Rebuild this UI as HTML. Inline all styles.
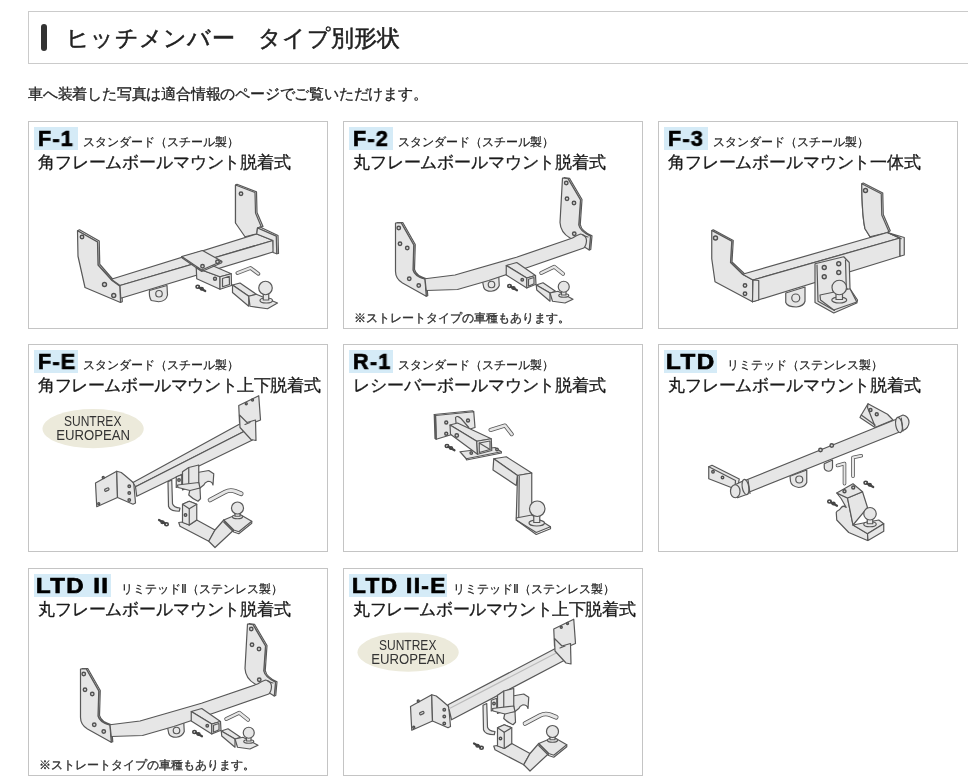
<!DOCTYPE html>
<html><head><meta charset="utf-8">
<style>
html,body{margin:0;padding:0;background:#fff;-webkit-font-smoothing:antialiased;width:968px;height:781px;overflow:hidden;position:relative;font-family:"Liberation Sans",sans-serif;color:#222}
.hd{position:absolute;left:28px;top:11px;width:960px;height:51px;border:1px solid #cbcbcb;box-sizing:content-box}
.hd .bar{position:absolute;left:12px;top:12px;width:6px;height:27px;border-radius:3px;background:#333}
.hd .t{will-change:transform;position:absolute;left:37px;top:12px;font-size:23px;letter-spacing:0.25px;line-height:28px;color:#222;-webkit-text-stroke:0.5px #222;white-space:nowrap}
.intro{will-change:transform;position:absolute;left:28px;top:85px;font-size:15px;letter-spacing:-0.2px;line-height:18px;color:#222;-webkit-text-stroke:0.3px #222;white-space:nowrap}
.card{position:absolute;width:298px;height:206px;border:1px solid #c4c4c4;background:#fff;overflow:hidden}
.lab{position:absolute;left:5px;top:5px;height:23px;background:#d5ebf7;}
.lab b{will-change:transform;position:absolute;left:4px;top:1px;font-size:22px;line-height:22px;font-weight:bold;color:#000;white-space:nowrap;-webkit-text-stroke:0.7px #000;transform-origin:0 0;transform:scaleX(0.98);letter-spacing:1.3px}
.sub{will-change:transform;position:absolute;top:13px;font-size:11.5px;line-height:14px;color:#222;-webkit-text-stroke:0.2px #222;white-space:nowrap}
.ttl{will-change:transform;position:absolute;left:9px;top:30.5px;font-size:17px;letter-spacing:-0.15px;line-height:20px;color:#1a1a1a;-webkit-text-stroke:0.3px #1a1a1a;white-space:nowrap}
.note{will-change:transform;position:absolute;left:10px;top:188px;font-size:11.7px;line-height:16px;color:#333;-webkit-text-stroke:0.35px #333;white-space:nowrap}
svg.dr{position:absolute;left:0;top:0;width:298px;height:206px}
svg#draw{position:absolute;left:0;top:0;width:968px;height:781px}
#draw .p{fill:#e6e6e6;stroke:#585858;stroke-width:1.2;vector-effect:non-scaling-stroke;stroke-linejoin:round}
#draw .l{fill:none;stroke:#585858;stroke-width:1.2;vector-effect:non-scaling-stroke;stroke-linejoin:round;stroke-linecap:round}
#draw .h{fill:#d6d6d6;stroke:#505050;stroke-width:1.4;vector-effect:non-scaling-stroke}
</style></head><body>
<div class="hd"><div class="bar"></div><div class="t">ヒッチメンバー　タイプ別形状</div></div>
<div class="intro">車へ装着した写真は適合情報のページでご覧いただけます。</div>

<div class="card" style="left:28px;top:121px">
 <div class="lab" style="width:44px"><b>F-1</b></div><div class="sub" style="left:54px">スタンダード（スチール製）</div>
 <div class="ttl">角フレームボールマウント脱着式</div>
</div>
<div class="card" style="left:343px;top:121px">
 <div class="lab" style="width:44px"><b>F-2</b></div><div class="sub" style="left:54px">スタンダード（スチール製）</div>
 <div class="ttl">丸フレームボールマウント脱着式</div>
 <div class="note">※ストレートタイプの車種もあります。</div>
</div>
<div class="card" style="left:658px;top:121px">
 <div class="lab" style="width:44px"><b>F-3</b></div><div class="sub" style="left:54px">スタンダード（スチール製）</div>
 <div class="ttl">角フレームボールマウント一体式</div>
</div>

<div class="card" style="left:28px;top:344px">
 <div class="lab" style="width:44px"><b>F-E</b></div><div class="sub" style="left:54px">スタンダード（スチール製）</div>
 <div class="ttl" style="letter-spacing:-0.4px">角フレームボールマウント上下脱着式</div>
</div>
<div class="card" style="left:343px;top:344px">
 <div class="lab" style="width:44px"><b>R-1</b></div><div class="sub" style="left:54px">スタンダード（スチール製）</div>
 <div class="ttl">レシーバーボールマウント脱着式</div>
</div>
<div class="card" style="left:658px;top:344px">
 <div class="lab" style="width:53px"><b style="transform:scaleX(1.1);left:2px">LTD</b></div><div class="sub" style="left:68px">リミテッド（ステンレス製）</div>
 <div class="ttl">丸フレームボールマウント脱着式</div>
</div>

<div class="card" style="left:28px;top:568px">
 <div class="lab" style="width:77px"><b style="transform:scaleX(1.09);left:2px">LTD II</b></div><div class="sub" style="left:92px">リミテッドⅡ（ステンレス製）</div>
 <div class="ttl">丸フレームボールマウント脱着式</div>
 <div class="note">※ストレートタイプの車種もあります。</div>
</div>
<div class="card" style="left:343px;top:568px">
 <div class="lab" style="width:98px"><b style="transform:scaleX(1.03);left:3px">LTD II-E</b></div><div class="sub" style="left:109px">リミテッドⅡ（ステンレス製）</div>
 <div class="ttl" style="letter-spacing:-0.4px">丸フレームボールマウント上下脱着式</div>
</div>
<svg id="draw" viewBox="0 0 968 781">
<defs>
<g id="clip">
 <ellipse cx="8" cy="9" rx="7" ry="6" fill="none" stroke="#444" stroke-width="1.6" vector-effect="non-scaling-stroke"/>
 <path d="M13,12 L38,26" fill="none" stroke="#444" stroke-width="2.2" vector-effect="non-scaling-stroke" stroke-linecap="round"/>
 <ellipse cx="24" cy="17" rx="6" ry="5" fill="none" stroke="#444" stroke-width="1.4" vector-effect="non-scaling-stroke"/>
</g>
<g id="f1">
 <polygon class="p" points="78,239 157,284 159,377 212,438 247,460 249,527 242,530 240,465 208,442 152,380 150,288 70,243"/>
 <polygon class="p" points="70,243 150,288 152,380 208,442 240,465 242,530 100,470 72,345"/>
 <circle class="h" cx="88" cy="268" r="7"/><circle class="h" cx="178" cy="458" r="8"/><circle class="h" cx="215" cy="502" r="8"/>
 <polygon class="p" points="708,57 786,87 788,170 812,226 790,232 702,212 702,60"/>
 <polygon class="p" points="702,60 780,90 782,172 805,227 790,232 787,256 740,267 702,212"/>
 <circle class="h" cx="724" cy="95" r="7"/>
 <polygon class="p" points="205,437 787,256 852,282 240,462"/>
 <polygon class="p" points="240,462 852,282 855,327 243,513"/>
 <polygon class="p" points="790,232 800,228 872,262 874,334 867,335 865,265"/>
 <polygon class="p" points="790,232 865,265 867,335 852,330 852,282 787,256"/>
 <path class="p" d="M358,482 L428,462 L430,500 Q425,525 395,527 L365,522 Q355,505 358,482 Z"/>
 <circle class="p" cx="396" cy="495" r="13"/>
 <polygon class="p" points="545,392 640,427 640,477 547,435"/>
 <polygon class="p" points="545,392 597,377 685,415 640,427"/>
 <polygon class="p" points="640,427 685,415 686,462 640,477"/>
 <polygon class="p" points="650,434 677,425 678,458 650,467"/>
 <polygon class="p" points="487,346 570,322 647,365 567,400"/>
 <polyline class="l" points="487,346 489,352 567,406 647,371 647,365"/>
 <circle class="h" cx="570" cy="385" r="7"/><circle class="h" cx="630" cy="367" r="7"/>
 <circle class="h" cx="620" cy="435" r="6"/>
 <polygon class="p" points="690,460 720,452 785,497 755,505"/>
 <polygon class="p" points="690,460 755,505 755,545 690,490"/>
 <polygon class="p" points="755,505 785,497 870,532 830,555 760,545"/>
 <ellipse class="p" cx="825" cy="522" rx="25" ry="10"/>
 <rect class="p" x="813" y="490" width="22" height="30"/>
 <circle class="p" cx="822" cy="472" r="27"/>
 <polyline class="l" style="stroke-width:4;stroke:#666" points="710,412 762,392 793,415"/>
 <polyline class="l" style="stroke-width:2;stroke:#e6e6e6" points="710,412 762,392 793,415"/>
 <use href="#clip" x="543" y="458"/>
</g>
<g id="f2">
 <path class="p" d="M88,210 L111,210 L161,298 L158,398 Q165,425 206,435 L211,503 L205,505 L202,437 Q160,428 152,400 L155,300 L105,212 Z"/>
 <path class="p" d="M82,212 L105,212 L155,300 L152,400 Q158,425 200,437 L205,505 L110,452 Q82,435 82,405 Z"/>
 <circle class="h" cx="95" cy="232" r="7"/><circle class="h" cx="100" cy="295" r="7"/><circle class="h" cx="129" cy="312" r="7"/><circle class="h" cx="137" cy="435" r="7"/><circle class="h" cx="175" cy="462" r="7"/>
 <path class="p" d="M756,30 L778,33 L828,118 L821,218 Q826,245 868,263 L863,318 L857,320 L862,265 Q820,245 815,220 L822,120 L772,35 Z"/>
 <path class="p" d="M750,32 L772,35 L822,120 L815,220 Q820,245 862,265 L857,320 L780,272 Q742,250 740,210 Z"/>
 <circle class="h" cx="765" cy="52" r="7"/><circle class="h" cx="768" cy="115" r="7"/><circle class="h" cx="796" cy="132" r="7"/><circle class="h" cx="797" cy="255" r="7"/>
 <path class="p" d="M430,445 L495,425 L497,462 Q490,482 465,485 Q440,485 435,470 Z"/>
 <circle class="p" cx="466" cy="458" r="13"/>
 <path class="p" d="M200,435 L320,420 L566,349 L790,272 Q805,262 822,256 Q845,260 846,282 Q845,303 835,312 L616,388 L455,442 L330,478 L205,482 Z"/>
 <polyline class="l" points="832,262 852,268"/>
 <polygon class="p" points="525,382 567,370 642,422 607,432"/>
 <polygon class="p" points="525,382 607,432 607,472 525,420"/>
 <polygon class="p" points="607,432 642,422 644,457 607,472"/>
 <polygon class="p" points="614,437 636,430 636,455 614,465"/>
 <circle class="h" cx="589" cy="439" r="5"/>
 <polygon class="p" points="645,460 672,451 722,485 700,492"/>
 <polygon class="p" points="645,460 700,492 700,525 647,480"/>
 <polygon class="p" points="700,492 732,485 792,517 760,532 710,525"/>
 <ellipse class="p" cx="755" cy="502" rx="20" ry="7"/>
 <rect class="p" x="746" y="482" width="18" height="18"/>
 <circle class="p" cx="755" cy="467" r="22"/>
 <polyline class="l" style="stroke-width:4;stroke:#555" points="665,412 717,387 752,415"/>
 <polyline class="l" style="stroke-width:2.4;stroke:#e6e6e6" points="665,412 717,387 752,415"/>
 <use href="#clip" x="530" y="455"/>
</g>
<g id="f3">
 <polygon class="p" points="93,239 173,282 168,368 216,413 258,438 258,524 250,527 252,440 210,417 162,370 167,285 87,242"/>
 <polygon class="p" points="87,242 167,285 162,370 210,417 252,440 250,527 100,447 87,355"/>
 <circle class="h" cx="102" cy="272" r="8"/><circle class="h" cx="220" cy="462" r="7"/><circle class="h" cx="220" cy="495" r="7"/>
 <path class="p" d="M693,52 L771,92 L773,178 L801,243 L790,250 L720,267 L700,235 Q688,180 687,55 Z"/>
 <path class="p" d="M687,55 L765,95 L767,180 L795,245 L790,250 L720,267 L700,235 Q688,180 687,55 Z"/>
 <circle class="h" cx="702" cy="82" r="8"/>
 <path class="p" d="M383,492 L460,468 L460,525 Q455,545 425,548 Q390,548 383,530 Z"/>
 <circle class="p" cx="423" cy="512" r="16"/>
 <polygon class="p" points="210,417 790,250 840,272 252,440"/>
 <polygon class="p" points="252,440 840,272 840,345 250,527"/>
 <polygon class="p" points="252,440 275,442 275,520 250,527"/>
 <polygon class="p" points="790,250 850,268 857,270 857,340 840,345 840,272"/>
 <polyline class="l" points="790,250 845,275"/>
 <path class="p" d="M500,375 L615,347 L637,370 L640,475 L670,520 L667,532 L575,572 L500,530 Z"/>
 <polyline class="l" points="508,380 512,525 578,562"/>
 <polyline class="l" points="622,360 625,470 660,515"/>
 <polygon class="p" points="520,500 640,475 667,528 575,560 522,520"/>
 <circle class="h" cx="537" cy="390" r="8"/><circle class="h" cx="595" cy="375" r="8"/><circle class="h" cx="595" cy="410" r="8"/><circle class="h" cx="537" cy="427" r="8"/>
 <ellipse class="p" cx="597" cy="520" rx="30" ry="12"/>
 <rect class="p" x="584" y="485" width="26" height="33"/>
 <circle class="p" cx="597" cy="470" r="29"/>
</g>
<g id="fe_a">
 <polygon class="p" points="262,392 347,345 350,450 267,487"/>
 <polygon class="p" points="347,345 365,350 380,362 415,392 422,472 412,477 350,450"/>
 <rect class="l" x="298" y="414" width="18" height="9" rx="4" transform="rotate(-25 307 418)"/>
 <circle class="h" cx="397" cy="405" r="5"/><circle class="h" cx="397" cy="432" r="5"/><circle class="h" cx="397" cy="460" r="5"/>
 <circle class="h" cx="275" cy="475" r="4"/><circle class="h" cx="293" cy="370" r="4"/>
</g>
<g id="fe_b"> <polygon class="p" points="835,82 915,43 922,140 862,165 838,150"/>
 <polygon class="p" points="838,120 868,150 902,140 904,222 884,218 840,170"/>
 <polyline class="l" points="860,158 880,150"/>
 <circle class="h" cx="865" cy="75" r="4"/><circle class="h" cx="890" cy="60" r="4"/>
 <path class="p" d="M552,387 L567,380 L570,475 Q575,490 600,492 L597,505 Q560,505 554,485 Z"/>
 <path class="p" d="M670,350 L715,342 L735,355 L732,400 Q728,385 712,385 Q698,390 695,400 L680,412 L670,405 Z"/>
 <path class="p" d="M640,417 L680,412 L682,455 L672,465 Q650,455 635,440 Z"/>
 <polygon class="p" points="610,347 635,330 675,320 675,400 635,410 610,420"/>
 <polyline class="l" points="635,330 635,410"/>
 <polygon class="p" points="585,367 607,359 607,402 585,410"/>
 <circle class="h" cx="596" cy="380" r="5"/>
 <path class="p" d="M590,400 L675,390 L680,412 L640,422 L592,410 Z"/>
 <path class="l" style="stroke-width:4.6;stroke:#555" d="M720,460 L780,428 Q800,418 820,425 L845,435"/>
 <path class="l" style="stroke-width:3;stroke:#e6e6e6" d="M720,460 L780,428 Q800,418 820,425 L845,435"/>
 <g transform="translate(554,566) rotate(180)"><use href="#clip"/></g>
 <polygon class="p" points="595,550 610,548 637,560 667,540 740,580 715,625 600,565"/>
 <polygon class="p" points="715,625 740,580 775,540 815,580 740,650"/>
 <polygon class="p" points="775,540 835,515 887,545 835,587 815,580"/>
 <polyline class="l" points="775,548 815,588 835,595 887,553 887,545"/>
 <polygon class="p" points="610,477 637,465 667,477 667,540 637,560 610,550"/>
 <polygon class="p" points="610,477 637,465 667,477 637,495"/>
 <polyline class="l" points="637,495 637,560"/>
 <circle class="h" cx="622" cy="520" r="5"/>
 <ellipse class="p" cx="830" cy="527" rx="20" ry="8"/>
 <rect class="p" x="820" y="505" width="20" height="20"/>
 <circle class="p" cx="830" cy="492" r="24"/>
</g>
<g id="fe">
 <use href="#fe_a"/>
 <polygon class="p" points="412,390 850,150 887,170 422,407"/>
 <polygon class="p" points="422,407 887,170 890,220 427,445"/>
 <use href="#fe_b"/>
</g>
<g id="fe2">
 <use href="#fe_a"/>
 <path class="p" d="M412,385 L870,145 Q900,150 900,176 Q898,200 880,206 L426,445 Z"/>
 <ellipse class="p" cx="882" cy="176" rx="14" ry="30" transform="rotate(-10 882 176)"/>
 <polyline class="l" style="stroke:#bbb" points="418,400 870,165"/>
 <use href="#fe_b"/>
</g>
<g id="r1">
 <polygon class="p" points="142,122 295,107 300,170 145,217"/>
 <polyline class="l" points="137,118 290,103 295,107"/>
 <polygon class="p" points="137,118 142,122 145,217 140,214"/>
 <circle class="h" cx="185" cy="150" r="6"/><circle class="h" cx="185" cy="195" r="6"/><circle class="h" cx="272" cy="142" r="6"/>
 <path class="p" d="M222,130 Q230,120 245,135 L275,170 L275,185 L225,160 Z"/>
 <polygon class="p" points="240,267 380,250 405,267 265,295"/>
 <polyline class="l" points="265,295 266,300 406,272 405,267"/>
 <polygon class="p" points="200,160 230,152 365,215 307,225"/>
 <polygon class="p" points="200,160 307,225 310,277 202,197"/>
 <polygon class="p" points="307,225 365,215 367,262 310,277"/>
 <polygon class="p" points="317,232 360,224 360,258 317,270"/>
 <polyline class="l" points="317,232 360,258"/>
 <circle class="h" cx="227" cy="202" r="7"/>
 <circle class="h" cx="285" cy="272" r="5"/><circle class="h" cx="388" cy="258" r="5"/>
 <polyline class="l" style="stroke-width:4;stroke:#555" points="362,180 420,162 447,197"/>
 <polyline class="l" style="stroke-width:2.4;stroke:#e6e6e6" points="362,180 420,162 447,197"/>
 <use href="#clip" x="180" y="235"/>
 <polygon class="p" points="375,295 425,287 527,352 470,362"/>
 <polygon class="p" points="375,295 470,362 465,402 372,340"/>
 <polygon class="p" points="470,362 527,352 527,540 465,532"/>
 <polyline class="l" points="477,365 475,530"/>
 <polygon class="p" points="465,532 527,520 602,567 545,590 465,540"/>
 <polyline class="l" points="465,540 545,598 602,575 602,567"/>
 <ellipse class="p" cx="547" cy="552" rx="31" ry="12"/>
 <rect class="p" x="535" y="515" width="24" height="35"/>
 <circle class="p" cx="549" cy="495" r="31"/>
</g>
<g id="ltd">
 <polygon class="p" points="35,327 48,321 157,376 150,415 125,410 35,375"/>
 <polyline class="l" points="35,327 142,382 140,412"/>
 <circle class="h" cx="52" cy="347" r="5"/><circle class="h" cx="90" cy="370" r="5"/>
 <polygon class="p" points="672,75 750,117 772,140 700,170 640,130 645,120"/>
 <polyline class="l" points="672,75 670,90 700,165"/>
 <polyline class="l" points="645,120 700,160"/>
 <circle class="h" cx="682" cy="100" r="6"/><circle class="h" cx="707" cy="117" r="6"/>
 <path class="p" d="M497,315 L530,300 L530,330 Q528,345 513,345 Q497,342 497,330 Z"/>
 <path class="p" d="M360,365 L427,340 L427,390 Q420,408 395,410 Q365,405 362,385 Z"/>
 <circle class="p" cx="397" cy="378" r="14"/>
 <path class="p" d="M165,388 L790,135 L798,188 L175,437 Z"/>
 <circle class="h" cx="482" cy="260" r="7"/><circle class="h" cx="527" cy="242" r="7"/>
 <path class="p" d="M812,120 Q836,126 836,150 Q834,174 812,182 L798,188 L790,130 Z"/>
 <ellipse class="p" cx="796" cy="160" rx="13" ry="31" transform="rotate(-10 796 160)"/>
 <polyline class="l" points="805,132 812,184"/>
 <path class="p" d="M140,399 L180,380 L192,436 L150,451 Z"/>
 <ellipse class="p" cx="141" cy="425" rx="19" ry="26"/>
 <ellipse class="p" cx="182" cy="408" rx="13" ry="31" transform="rotate(-10 182 408)"/>
 <polyline class="l" points="192,380 200,434"/>
 <path class="l" style="stroke-width:3.6;stroke:#555" d="M550,322 L578,314 L578,395"/>
 <path class="l" style="stroke-width:2;stroke:#e6e6e6" d="M550,322 L578,314 L578,395"/>
 <path class="l" style="stroke-width:3.6;stroke:#555" d="M645,283 L612,290 L612,365"/>
 <path class="l" style="stroke-width:2;stroke:#e6e6e6" d="M645,283 L612,290 L612,365"/>
 <use href="#clip" x="655" y="382"/>
 <use href="#clip" x="510" y="457"/>
 <path class="p" d="M547,432 L565,455 L585,490 Q575,480 565,490 Q560,500 548,505 L545,510 L547,540 L595,590 L670,622 L672,595 L612,560 L590,452 Z"/>
 <polygon class="p" points="590,452 650,427 670,490 612,560"/>
 <polygon class="p" points="547,432 612,395 650,427 590,452"/>
 <circle class="h" cx="578" cy="425" r="6"/><circle class="h" cx="613" cy="410" r="6"/>
 <polygon class="p" points="612,560 715,540 735,555 670,595"/>
 <polygon class="p" points="670,595 735,555 735,585 672,622"/>
 <ellipse class="p" cx="680" cy="557" rx="25" ry="10"/>
 <rect class="p" x="669" y="527" width="22" height="28"/>
 <circle class="p" cx="680" cy="515" r="25"/>
</g>
</defs>
<use href="#f1" transform="translate(60,170) scale(0.25)"/>
<use href="#f2" transform="translate(375,170) scale(0.25)"/>
<use href="#f2" transform="translate(60,616) scale(0.25)"/>
<use href="#f3" transform="translate(690,170) scale(0.25)"/>
<use href="#fe" transform="translate(30,385) scale(0.25)"/>
<use href="#fe2" transform="translate(345,608.5) scale(0.25)"/>
<ellipse cx="93.1" cy="428.7" rx="50.6" ry="19.6" fill="#eceadb"/>
<text x="64" y="426.2" textLength="57.4" lengthAdjust="spacingAndGlyphs" font-family="Liberation Sans" font-size="14.1" fill="#333">SUNTREX</text>
<text x="56.2" y="440.4" textLength="73.8" lengthAdjust="spacingAndGlyphs" font-family="Liberation Sans" font-size="14.1" fill="#333">EUROPEAN</text>
<ellipse cx="408.1" cy="652.2" rx="50.6" ry="19.6" fill="#eceadb"/>
<text x="379" y="649.7" textLength="57.4" lengthAdjust="spacingAndGlyphs" font-family="Liberation Sans" font-size="14.1" fill="#333">SUNTREX</text>
<text x="371.2" y="663.9" textLength="73.8" lengthAdjust="spacingAndGlyphs" font-family="Liberation Sans" font-size="14.1" fill="#333">EUROPEAN</text>
<use href="#r1" transform="translate(400,385) scale(0.25)"/>
<use href="#ltd" transform="translate(700,385) scale(0.25)"/>

</svg>
</body></html>
